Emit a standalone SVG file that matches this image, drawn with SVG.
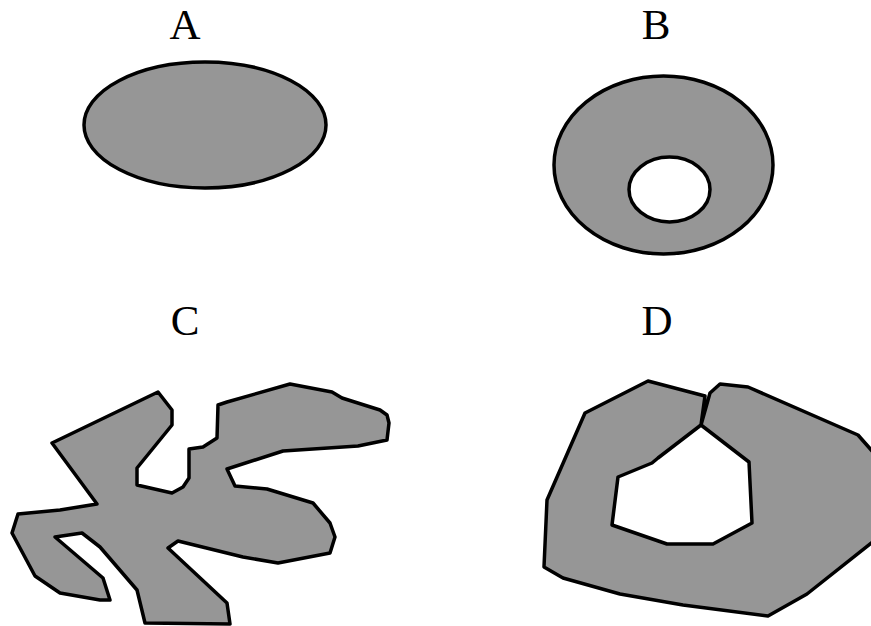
<svg xmlns="http://www.w3.org/2000/svg" width="871" height="626" viewBox="0 0 871 626">
<style>
.shape{fill:#969696;stroke:#000;stroke-width:3.5;stroke-linejoin:round}
.hole{fill:#fff;stroke:#000;stroke-width:3.5;stroke-linejoin:round}
.lbl{font-family:"Liberation Serif","Times New Roman",serif;font-size:43px;fill:#000;text-anchor:middle}
</style>
<rect width="871" height="626" fill="#fff"/>
<g id="A">
<text class="lbl" x="185" y="39">A</text>
<ellipse class="shape" cx="205" cy="125" rx="121" ry="63"/>
</g>
<g id="B">
<text class="lbl" x="656" y="39">B</text>
<ellipse class="shape" cx="663.5" cy="165" rx="109.5" ry="89"/>
<ellipse class="hole" cx="669.5" cy="189.5" rx="40.5" ry="32.5"/>
</g>
<g id="C">
<text class="lbl" x="185" y="335">C</text>
<path class="shape" d="M52,443 L158,392 L172,410 L172,425 L137,468 L137,485 L172,493 L183,487 L189,478 L189,449 L203,447 L217,438 L218,405 L227,402 L290,384 L332,392 L342,398 L380,410 L387,415 L389,423 L387,440 L358,446 L283,451 L227,469 L235,486 L267,489 L313,503 L330,523 L335,537 L330,553 L278,563 L243,557 L178,541 L168,548 L227,603 L230,624 L145,623 L137,590 L100,547 L82,533 L55,537 L103,578 L110,600 L100,600 L60,593 L35,576 L12,533 L18,514 L60,510 L97,504 Z"/>
</g>
<g id="D">
<text class="lbl" x="657" y="335">D</text>
<path class="shape" d="M648,381 L705,396 L701,425 L658,458 L652,463 L618,477 L612,525 L667,544 L713,544 L752,523 L749,462 L701,425 L710,393 L720,384 L748,387 L858,435 L880,460 L880,536 L807,594 L768,616 L683,605 L620,594 L563,578 L544,567 L547,500 L585,413 Z"/>
</g>
<g id="connectors"/>
</svg>
